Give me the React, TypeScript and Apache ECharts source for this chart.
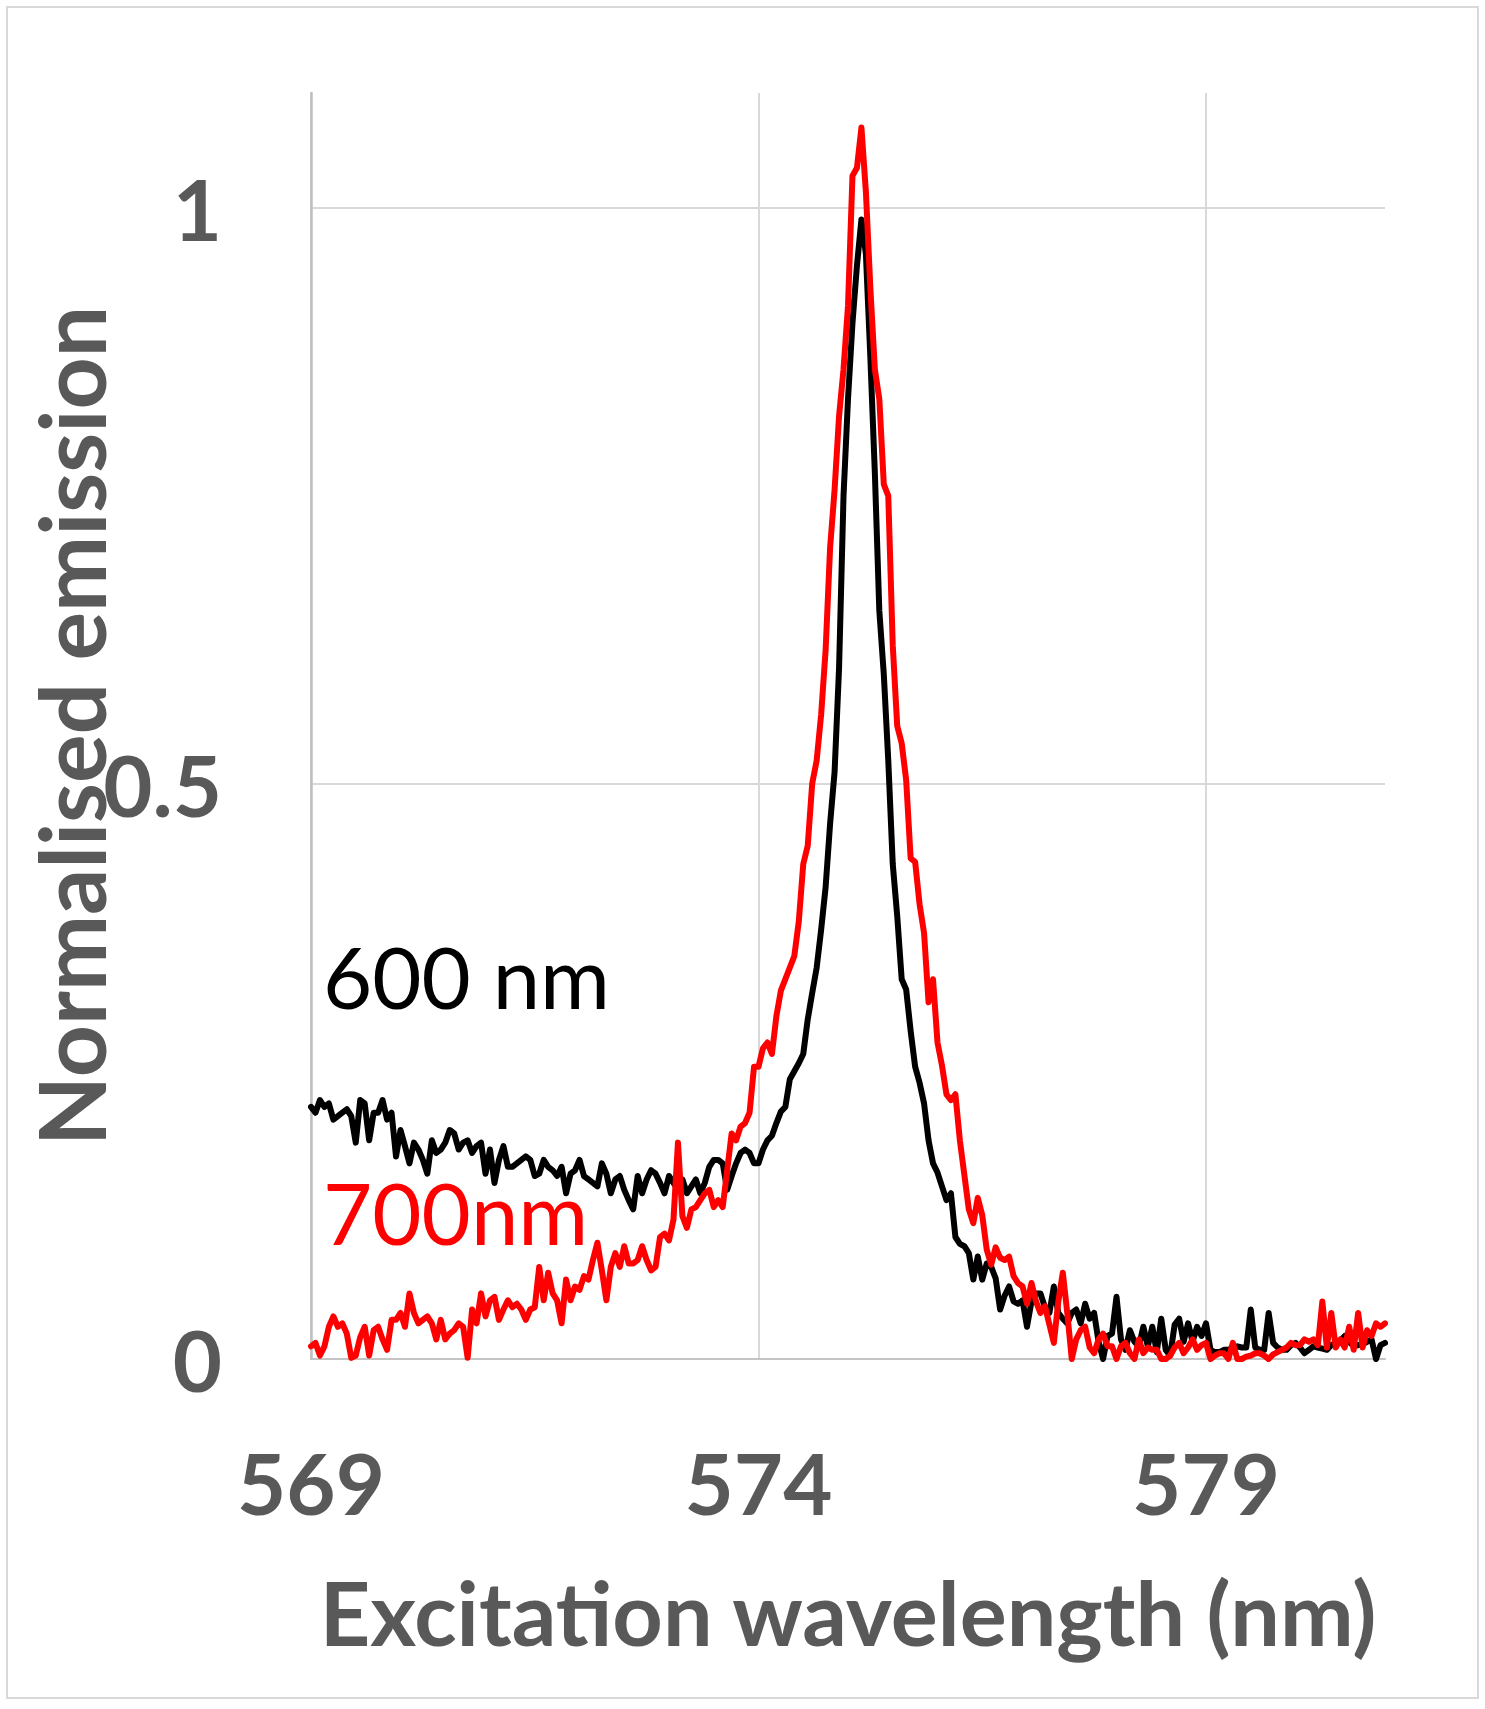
import React, { useEffect, useRef } from "react";
import * as echarts from "echarts";

// Sampling grid of the excitation scan (nm)
const WAVELENGTH_START = 569;
const WAVELENGTH_STEP = 0.05;

// Normalised emission, detection at 600 nm (black)
const emission600nm = [
  0.219, 0.214, 0.225, 0.219, 0.222, 0.208, 0.211, 0.214, 0.217, 0.211, 0.188, 0.225, 0.222, 0.19, 0.214, 0.214, 0.225, 0.208, 0.214, 0.176,
  0.199, 0.185, 0.17, 0.188, 0.182, 0.173, 0.161, 0.19, 0.179, 0.182, 0.188, 0.199, 0.196, 0.182, 0.188, 0.19, 0.179, 0.185, 0.188, 0.161,
  0.182, 0.153, 0.173, 0.185, 0.167, 0.167, 0.17, 0.173, 0.176, 0.173, 0.159, 0.161, 0.173, 0.167, 0.164, 0.159, 0.167, 0.144, 0.161, 0.164,
  0.173, 0.159, 0.156, 0.153, 0.15, 0.17, 0.161, 0.144, 0.156, 0.159, 0.147, 0.138, 0.13, 0.159, 0.144, 0.156, 0.164, 0.161, 0.153, 0.144,
  0.159, 0.153, 0.147, 0.156, 0.144, 0.15, 0.156, 0.144, 0.153, 0.167, 0.173, 0.173, 0.17, 0.147, 0.159, 0.17, 0.179, 0.182, 0.179, 0.17,
  0.17, 0.182, 0.19, 0.194, 0.205, 0.215, 0.219, 0.243, 0.25, 0.257, 0.265, 0.295, 0.318, 0.34, 0.373, 0.41, 0.465, 0.51, 0.6, 0.75,
  0.834, 0.9, 0.95, 0.99, 0.96, 0.87, 0.77, 0.65, 0.595, 0.52, 0.43, 0.385, 0.33, 0.321, 0.285, 0.254, 0.24, 0.222, 0.19, 0.17,
  0.162, 0.15, 0.138, 0.144, 0.106, 0.1, 0.098, 0.092, 0.069, 0.089, 0.069, 0.083, 0.08, 0.07, 0.043, 0.055, 0.063, 0.05, 0.048, 0.051,
  0.028, 0.05, 0.057, 0.057, 0.045, 0.04, 0.063, 0.04, 0.035, 0.031, 0.04, 0.043, 0.031, 0.048, 0.035, 0.04, 0.015, 0.0, 0.02, 0.022,
  0.054, 0.017, 0.008, 0.025, 0.015, 0.011, 0.028, 0.011, 0.028, 0.006, 0.035, 0.008, 0.003, 0.03, 0.035, 0.015, 0.031, 0.015, 0.028, 0.02,
  0.031, 0.008, 0.006, 0.006, 0.008, 0.008, 0.01, 0.011, 0.01, 0.01, 0.043, 0.01, 0.008, 0.008, 0.04, 0.014, 0.01, 0.008, 0.008, 0.012,
  0.014, 0.01, 0.005, 0.008, 0.011, 0.01, 0.009, 0.008, 0.012, 0.014, 0.016, 0.02, 0.015, 0.011, 0.012, 0.013, 0.015, 0.017, 0.0, 0.012,
  0.014,
];

// Normalised emission, detection at 700 nm (red)
const emission700nm = [
  0.011, 0.014, 0.003, 0.011, 0.028, 0.037, 0.028, 0.031, 0.022, 0.001, 0.003, 0.019, 0.028, 0.003, 0.025, 0.028, 0.017, 0.008, 0.034, 0.034,
  0.04, 0.028, 0.057, 0.04, 0.031, 0.034, 0.037, 0.031, 0.017, 0.034, 0.017, 0.022, 0.025, 0.031, 0.028, 0.001, 0.043, 0.031, 0.057, 0.037,
  0.051, 0.054, 0.034, 0.043, 0.051, 0.045, 0.048, 0.043, 0.034, 0.043, 0.045, 0.08, 0.051, 0.075, 0.057, 0.051, 0.031, 0.069, 0.051, 0.063,
  0.06, 0.072, 0.069, 0.086, 0.101, 0.077, 0.051, 0.08, 0.092, 0.08, 0.098, 0.083, 0.083, 0.086, 0.098, 0.086, 0.077, 0.08, 0.106, 0.109,
  0.103, 0.121, 0.188, 0.124, 0.114, 0.13, 0.132, 0.138, 0.144, 0.147, 0.132, 0.138, 0.132, 0.164, 0.196, 0.19, 0.202, 0.205, 0.214, 0.254,
  0.254, 0.27, 0.275, 0.265, 0.298, 0.32, 0.33, 0.34, 0.35, 0.38, 0.43, 0.446, 0.5, 0.52, 0.56, 0.616, 0.705, 0.755, 0.819, 0.86,
  0.915, 1.028, 1.035, 1.07, 1.014, 0.93, 0.86, 0.834, 0.76, 0.75, 0.62, 0.55, 0.535, 0.503, 0.435, 0.432, 0.395, 0.37, 0.31, 0.33,
  0.275, 0.255, 0.23, 0.225, 0.23, 0.19, 0.16, 0.13, 0.118, 0.14, 0.125, 0.095, 0.082, 0.097, 0.088, 0.086, 0.089, 0.072, 0.066, 0.063,
  0.048, 0.066, 0.05, 0.04, 0.046, 0.03, 0.014, 0.05, 0.075, 0.04, 0.0, 0.017, 0.025, 0.028, 0.01, 0.005, 0.017, 0.022, 0.011, 0.011,
  0.0, 0.011, 0.014, 0.005, 0.0, 0.017, 0.005, 0.01, 0.008, 0.008, 0.0, 0.0, 0.003, 0.01, 0.014, 0.005, 0.01, 0.017, 0.008, 0.012,
  0.014, 0.0, 0.003, 0.005, 0.005, 0.0, 0.014, 0.0, 0.0, 0.002, 0.003, 0.005, 0.005, 0.003, 0.0, 0.004, 0.006, 0.008, 0.01, 0.014,
  0.012, 0.012, 0.017, 0.015, 0.017, 0.012, 0.05, 0.01, 0.04, 0.01, 0.017, 0.01, 0.028, 0.008, 0.04, 0.01, 0.025, 0.02, 0.031, 0.028,
  0.031,
];

const xTickLabels = [569, 574, 579];
const yTickLabels = [0, 0.5, 1];
const seriesNames = ["600 nm", "700nm"];
const xTitle = "Excitation wavelength (nm)";
const yTitle = "Normalised emission";

const TEXT_GREY = "#595959";
const FONT = "Lato, 'Open Sans', sans-serif";

function toPoints(values: number[]) {
  return values.map((v, i) => [
    Math.round((WAVELENGTH_START + i * WAVELENGTH_STEP) * 100) / 100,
    v,
  ]);
}

export default function App() {
  const ref = useRef<HTMLDivElement>(null);

  useEffect(() => {
    if (!ref.current) return;
    const chart = echarts.init(ref.current, undefined, { renderer: "svg" });
    chart.setOption({
      animation: false,
      backgroundColor: "#ffffff",
      grid: { left: 311, top: 93, width: 1074, height: 1266, containLabel: false },
      xAxis: {
        type: "value",
        min: 569,
        max: 581,
        interval: 5,
        name: xTitle,
        nameLocation: "middle",
        nameGap: 253,
        nameTextStyle: {
          color: TEXT_GREY,
          fontFamily: FONT,
          fontWeight: "bold",
          fontSize: 88,
          verticalAlign: "middle",
        },
        axisLine: { show: true, lineStyle: { color: "#c4c4c4", width: 2 } },
        axisTick: { show: false },
        axisLabel: {
          show: true,
          color: TEXT_GREY,
          fontFamily: FONT,
          fontWeight: "bold",
          fontSize: 85,
          margin: 123,
          verticalAlign: "middle",
          showMaxLabel: false,
          formatter: (v: number) => (xTickLabels.includes(v) ? String(v) : ""),
        },
        splitLine: {
          show: true,
          showMaxLine: false,
          lineStyle: { color: ["#d9d9d9", "#d9d9d9", "#d9d9d9", "rgba(0,0,0,0)"], width: 2 },
        },
      },
      yAxis: {
        type: "value",
        min: 0,
        max: 1.1,
        interval: 0.5,
        axisLine: { show: true, lineStyle: { color: "#bfbfbf", width: 2.5 } },
        axisTick: { show: false },
        axisLabel: {
          show: true,
          color: TEXT_GREY,
          fontFamily: FONT,
          fontWeight: "bold",
          fontSize: 85,
          margin: 89,
          showMaxLabel: false,
          formatter: (v: number) => (yTickLabels.includes(v) ? String(v) : ""),
        },
        splitLine: {
          show: true,
          showMaxLine: false,
          lineStyle: { color: ["#d9d9d9", "#d9d9d9", "#d9d9d9", "rgba(0,0,0,0)"], width: 2 },
        },
      },
      graphic: [
        {
          type: "rect",
          shape: { x: 7, y: 7, width: 1471, height: 1691 },
          style: { fill: "none", stroke: "#d9d9d9", lineWidth: 2 },
          silent: true,
          z: -10,
        },
        {
          type: "text",
          x: 70,
          y: 726,
          rotation: Math.PI / 2,
          style: {
            text: yTitle,
            fill: TEXT_GREY,
            fontFamily: FONT,
            fontSize: 91,
            fontWeight: "bold",
            align: "center",
            verticalAlign: "middle",
          },
          z: 10,
        },
        {
          type: "text",
          x: 323,
          y: 976,
          style: {
            text: seriesNames[0],
            fill: "#000000",
            fontFamily: FONT,
            fontSize: 85,
            fontWeight: "normal",
            align: "left",
            verticalAlign: "middle",
          },
          z: 10,
        },
        {
          type: "text",
          x: 323,
          y: 1212,
          style: {
            text: seriesNames[1],
            fill: "#ff0000",
            fontFamily: FONT,
            fontSize: 85,
            fontWeight: "normal",
            align: "left",
            verticalAlign: "middle",
          },
          z: 10,
        },
      ],
      series: [
        {
          name: seriesNames[0],
          type: "line",
          data: toPoints(emission600nm),
          showSymbol: false,
          symbol: "none",
          clip: true,
          lineStyle: { color: "#000000", width: 6, join: "round", cap: "round" },
          itemStyle: { color: "#000000" },
          z: 2,
        },
        {
          name: seriesNames[1],
          type: "line",
          data: toPoints(emission700nm),
          showSymbol: false,
          symbol: "none",
          clip: true,
          lineStyle: { color: "#ff0000", width: 6, join: "round", cap: "round" },
          itemStyle: { color: "#ff0000" },
          z: 3,
        },
      ],
    });
    return () => chart.dispose();
  }, []);

  return (
    <div
      ref={ref}
      style={{ position: "absolute", left: 0, top: 0, width: 1482, height: 1704, background: "#fff" }}
    />
  );
}
